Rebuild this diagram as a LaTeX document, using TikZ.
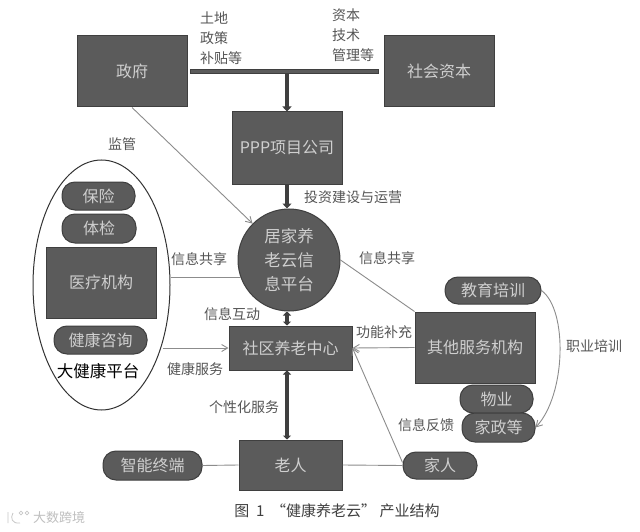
\documentclass[tikz,border=0pt]{standalone}
\usepackage{fontspec}
\setmainfont{Noto Sans CJK SC}
\usetikzlibrary{arrows.meta,shapes.geometric}
\definecolor{fillc}{HTML}{5B5B5B}
\definecolor{edgec}{HTML}{3F3F3F}
\definecolor{txtc}{HTML}{CFCFCF}
\definecolor{lblc}{HTML}{555555}
\definecolor{thinc}{HTML}{8C8C8C}
\tikzset{
 base/.style={fill=fillc,draw=edgec,line width=1pt,text=txtc,inner sep=0pt,font=\fontsize{16}{22}\selectfont,align=center},
 boxn/.style={base,rectangle},
 pill/.style={base,rectangle,rounded corners=13pt},
 lbl/.style={text=lblc,inner sep=0pt,font=\fontsize{14}{20}\selectfont,align=center},
 stack/.style={text=lblc,inner sep=0pt,font=\fontsize{14}{20}\selectfont,align=left,anchor=north west},
 thin line/.style={draw=thinc,line width=0.9pt},
 thin arrow/.style={thin line,-{Straight Barb[length=6pt,width=7pt]}},
 thick arrow/.style={draw=edgec,line width=3.2pt,-{Triangle[length=5pt,width=9pt]}},
 both arrow/.style={draw=edgec,line width=3.2pt,{Triangle[length=4pt,width=8pt]}-{Triangle[length=4pt,width=8pt]}},
}
\begin{document}
\begin{tikzpicture}[x=1pt,y=-1pt]
\useasboundingbox (0,0) rectangle (640,532);
\fill[white] (0,0) rectangle (640,532);
% ellipse
\node[ellipse,draw=black!80,line width=1pt,fill=white,minimum width=137pt,minimum height=250pt,inner sep=0pt] (ell) at (101.5,285) {};
% boxes
\node[boxn,minimum width=110pt,minimum height=71pt] (gov) at (132,71.5) {政府};
\node[boxn,minimum width=110pt,minimum height=71pt] (cap) at (439,71.5) {社会资本};
\node[boxn,minimum width=110pt,minimum height=72pt] (ppp) at (287,148) {PPP项目公司};
\node[fill=fillc,draw=edgec,line width=.5pt,minimum width=188pt,minimum height=4pt,inner sep=0pt] (bar) at (284,71) {};
\node[base,circle,minimum size=102pt,font=\fontsize{16.5}{24}\selectfont] (cloud) at (289,260) {居家养\\老云信\\息平台};
\node[pill,minimum width=73pt,minimum height=28pt] (bx) at (98.5,196) {保险};
\node[pill,minimum width=74pt,minimum height=29pt] (tj) at (99,228.5) {体检};
\node[boxn,minimum width=110pt,minimum height=71pt] (yl) at (101,282.5) {医疗机构};
\node[pill,minimum width=93pt,minimum height=28pt] (zx) at (100.5,340) {健康咨询};
\node[text=black,inner sep=0pt,font=\fontsize{16.5}{20}\selectfont] (djk) at (98,371) {大健康平台};
\node[boxn,minimum width=123pt,minimum height=44pt] (sq) at (290.5,348) {社区养老中心};
\node[boxn,minimum width=103pt,minimum height=50pt] (lr) at (290.5,465) {老人};
\node[boxn,minimum width=120pt,minimum height=71pt] (qt) at (475,347.5) {其他服务机构};
\node[pill,minimum width=96pt,minimum height=27pt] (jy) at (493,290.5) {教育培训};
\node[pill,minimum width=73pt,minimum height=28pt] (wy) at (496.5,399) {物业};
\node[pill,minimum width=73pt,minimum height=29pt] (jz) at (498.5,427.5) {家政等};
\node[pill,minimum width=74pt,minimum height=27pt] (jr) at (440,465.5) {家人};
\node[pill,minimum width=99pt,minimum height=29pt] (zn) at (152.5,465.5) {智能终端};
% connectors
\draw[thick arrow] (bar.south -| ppp.north) -- (ppp.north);
\draw[thick arrow] (ppp.south) -- (ppp.south |- cloud.north);
\draw[both arrow] (sq.north -| ppp.south) -- (ppp.south |- cloud.south);
\draw[both arrow] (sq.south -| ppp.south) -- (ppp.south |- lr.north);
\draw[thin arrow] (gov.south) -- (cloud.135);
\draw[thin line] (ell.east |- cloud.200) -- (cloud.200);
\draw[thin arrow] (ell.east |- sq.west) ++(-8,0) -- (sq.west);
\draw[thin line] (cloud.0) -- (qt.north west) ++(5,0);
\draw[thin arrow] (qt.west) -- (sq.east);
\draw[thin arrow] (jr.west) ++(0,-3) -- (sq.east);
\draw[thin line] (lr.east) -- (jr.west);
\draw[thin line] (zn.east) -- (lr.west);
\draw[thin arrow] (jy.east) .. controls (568,310) and (566,395) .. (jz.east);
% labels
\node[stack] (l1) at (200,12) {土地\\政策\\补贴等};
\node[stack] (l2) at (332,8.5) {资本\\技术\\管理等};
\node[lbl] (l3) at (122,144) {监管};
\node[lbl] (l4) at (353,197) {投资建设与运营};
\node[lbl] (l5) at (199,259) {信息共享};
\node[lbl] (l6) at (232,314) {信息互动};
\node[lbl] (l7) at (195,369) {健康服务};
\node[lbl] (l8) at (244,407) {个性化服务};
\node[lbl] (l9) at (387,258) {信息共享};
\node[lbl] (l10) at (384,332) {功能补充};
\node[lbl] (l11) at (594,346) {职业培训};
\node[lbl] (l12) at (426,425) {信息反馈};
\node[lbl,text=black!75,font=\fontsize{15}{18}\selectfont] (cap1) at (337,511) {图~~1~~“健康养老云”~产业结构};
\node[text=black!25,inner sep=0pt,font=\fontsize{13}{15}\selectfont,anchor=west] (wm) at (33,518) {大数跨境};
% faint watermark mark
\draw[black!22,line width=.8pt] (8,512) -- (8,523) (13,513) .. controls (10,518) and (12,524) .. (20,523);
\draw[black!22,line width=.7pt] (21,513) circle (1.8pt) (27,513) circle (1.8pt);
\end{tikzpicture}
\end{document}
